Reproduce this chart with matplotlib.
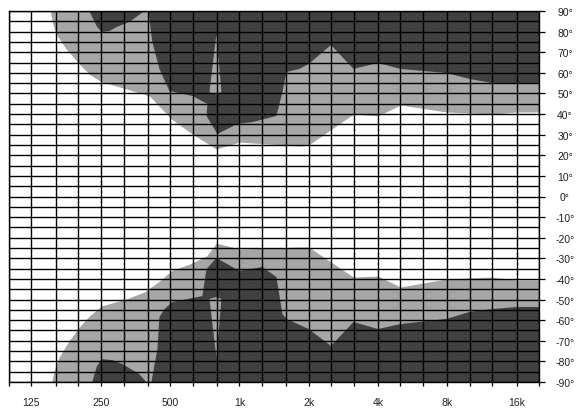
import matplotlib
matplotlib.use('Agg')
import matplotlib.pyplot as plt
from matplotlib.ticker import NullLocator

#-----------------------------------------------------------------------
# data (frequency in Hz, angle in degrees)

band_freqs = [100, 125, 160, 200, 250, 315, 400, 500, 630, 800, 1000, 1250,
              1600, 2000, 2500, 3150, 4000, 5000, 6300, 8000, 10000, 12500,
              16000, 20000]
label_freqs = {125: '125', 250: '250', 500: '500', 1000: '1k', 2000: '2k',
               4000: '4k', 8000: '8k', 16000: '16k'}
angle_ticks = list(range(90, -91, -10))
angle_labels = [str(a) + '°' for a in angle_ticks]

# upper half: edge between white and light grey
light_top_f = [151, 154, 160, 177, 202, 223, 252, 323, 407, 507, 625, 795,
               1000, 1825, 2000, 3130, 4000, 5000, 7934, 12500, 16000, 20000]
light_top_a = [90, 84.7, 78.8, 71.6, 64.3, 59.4, 55.6, 52.2, 48.8, 37.6, 30.3,
               23.0, 26.4, 24.5, 25.0, 40.0, 39.1, 44.4, 41.0, 40.0, 41.0, 41.0]

# upper half: dark region outline (closed along the 90 degree edge)
dark_top_f = [403, 419, 450, 497, 625, 727, 720, 803, 981, 1140, 1449, 1539,
              1602, 1825, 2000, 2500, 3130, 4000, 5000, 7934, 10000, 12500,
              16000, 20000, 20000]
dark_top_a = [90, 75.0, 61.9, 51.2, 48.8, 44.9, 39.1, 30.3, 35.2, 36.1, 39.1,
              50.7, 60.4, 61.9, 64.3, 73.5, 61.9, 64.8, 61.9, 59.9, 57.0, 55.1,
              54.6, 54.6, 90]

lobe_top_f = [223, 240, 252, 273, 293, 333, 357, 387]
lobe_top_a = [90, 82.7, 79.8, 80.3, 82.2, 84.7, 87.1, 90]

slit_top_f = [795, 742, 790, 836]
slit_top_a = [78.8, 50.7, 49.5, 50.7]

# lower half
light_bot_f = [153, 157, 165, 182, 202, 223, 252, 323, 387, 450, 512, 607, 720,
               795, 1000, 1825, 2000, 3130, 4000, 5000, 7934, 12500, 16000,
               20000]
light_bot_a = [-90, -84.7, -77.9, -70.1, -63.3, -58.0, -53.1, -49.7, -46.3,
               -41.0, -35.7, -32.8, -28.9, -22.6, -25.5, -24.5, -24.5, -39.1,
               -38.6, -43.9, -40.0, -39.1, -40.5, -40.5]

dark_bot_f = [415, 441, 450, 473, 512, 691, 720, 795, 1000, 1260, 1449, 1539,
              1602, 2000, 2500, 3130, 4000, 5000, 7934, 10000, 12500, 16000,
              20000, 20000]
dark_bot_a = [-90, -74.0, -58.5, -54.6, -51.2, -48.3, -35.2, -29.8, -36.1,
              -34.2, -39.1, -57.0, -59.4, -64.3, -72.5, -60.9, -64.3, -61.9,
              -59.4, -56.0, -54.6, -53.6, -53.6, -90]

lobe_bot_f = [230, 240, 252, 281, 311, 368, 395]
lobe_bot_a = [-90, -82.7, -78.9, -79.4, -81.3, -86.2, -90]

slit_bot_f = [742, 790, 836, 795]
slit_bot_a = [-49.7, -48.8, -49.7, -77.9]

#-----------------------------------------------------------------------

LIGHT = '#a6a6a6'
DARK = '#404040'

plt.rcParams['font.family'] = ['Liberation Sans', 'DejaVu Sans']

fig = plt.figure(figsize=(5.77, 4.10), dpi=100)
ax = fig.add_axes([9 / 577, 27 / 410, 530 / 577, 371 / 410])
ax.set_xscale('log')

# light grey areas
ax.fill_between(light_top_f, light_top_a, 90, color=LIGHT, lw=0)
ax.fill_between(light_bot_f, -90, light_bot_a, color=LIGHT, lw=0)

# dark areas
ax.fill(dark_top_f, dark_top_a, color=DARK, lw=0)
ax.fill(lobe_top_f, lobe_top_a, color=DARK, lw=0)
ax.fill(dark_bot_f, dark_bot_a, color=DARK, lw=0)
ax.fill(lobe_bot_f, lobe_bot_a, color=DARK, lw=0)

# light slits inside the dark area
ax.fill(slit_top_f, slit_top_a, color=LIGHT, lw=0)
ax.fill(slit_bot_f, slit_bot_a, color=LIGHT, lw=0)

ax.set_xlim(100, 20000)
ax.set_ylim(-90, 90)

ax.set_xticks(band_freqs)
ax.set_xticklabels([label_freqs.get(f, '') for f in band_freqs])
ax.xaxis.set_minor_locator(NullLocator())

ax.yaxis.tick_right()
ax.set_yticks(angle_ticks)
ax.set_yticklabels(angle_labels)
ax.set_yticks(range(-85, 90, 10), minor=True)

ax.tick_params(axis='x', which='major', length=3, width=0.9, color='black',
               pad=8, labelsize=7.5, labelcolor='#222222')
ax.tick_params(axis='y', which='major', length=4.3, width=0.9, color='black',
               pad=14.4, labelsize=7.5, labelcolor='#222222',
               left=False, right=True)
ax.tick_params(axis='y', which='minor', length=0)
plt.setp(ax.get_yticklabels(), ha='center')

ax.set_axisbelow(False)
ax.grid(True, which='both', color='black', lw=1.0)

for s in ax.spines.values():
    s.set_color('black')
    s.set_linewidth(1.0)

fig.savefig('out.png', dpi=100)
